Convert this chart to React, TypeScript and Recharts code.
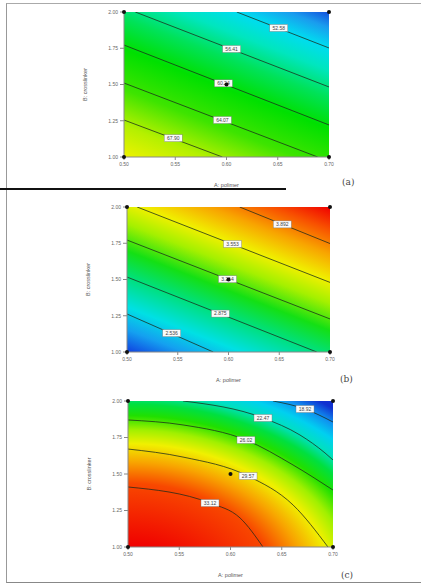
import React from 'react';
import { ComposedChart, Line, Scatter, XAxis, YAxis, ReferenceArea, ReferenceDot } from 'recharts';

const xTicks = [0.5, 0.55, 0.6, 0.65, 0.7];
const yTicks = [1.0, 1.25, 1.5, 1.75, 2.0];
const designPoints = [
    { x: 0.5, y: 1.0 },
    { x: 0.7, y: 1.0 },
    { x: 0.5, y: 2.0 },
    { x: 0.7, y: 2.0 },
    { x: 0.6, y: 1.5 },
];

// panel (a) contours
const a1 = [{ x: 0.61, y: 2.0 }, { x: 0.7, y: 1.752 }];
const a2 = [{ x: 0.511, y: 2.0 }, { x: 0.7, y: 1.483 }];
const a3 = [{ x: 0.5, y: 1.772 }, { x: 0.7, y: 1.221 }];
const a4 = [{ x: 0.5, y: 1.51 }, { x: 0.689, y: 1.0 }];
const a5 = [{ x: 0.5, y: 1.255 }, { x: 0.596, y: 1.0 }];
const aLabels = [
    { x: 0.651, y: 1.89, label: '52.58' },
    { x: 0.605, y: 1.745, label: '56.41' },
    { x: 0.597, y: 1.508, label: '60.24' },
    { x: 0.596, y: 1.255, label: '64.07' },
    { x: 0.548, y: 1.13, label: '67.90' },
];

// panel (b) contours
const b1 = [{ x: 0.611, y: 2.0 }, { x: 0.7, y: 1.748 }];
const b2 = [{ x: 0.51, y: 2.0 }, { x: 0.7, y: 1.48 }];
const b3 = [{ x: 0.5, y: 1.772 }, { x: 0.7, y: 1.228 }];
const b4 = [{ x: 0.5, y: 1.517 }, { x: 0.687, y: 1.0 }];
const b5 = [{ x: 0.5, y: 1.262 }, { x: 0.585, y: 1.0 }];
const bLabels = [
    { x: 0.653, y: 1.88, label: '3.892' },
    { x: 0.604, y: 1.745, label: '3.553' },
    { x: 0.599, y: 1.502, label: '3.214' },
    { x: 0.592, y: 1.265, label: '2.875' },
    { x: 0.544, y: 1.13, label: '2.536' },
];

// panel (c) contours
const c1 = [{ x: 0.6415, y: 2.0 }, { x: 0.6727, y: 1.945 }, { x: 0.7, y: 1.856 }];
const c2 = [{ x: 0.5537, y: 2.0 }, { x: 0.6317, y: 1.884 }, { x: 0.6678, y: 1.767 }, { x: 0.6922, y: 1.644 }, { x: 0.7, y: 1.596 }];
const c3 = [{ x: 0.5, y: 1.87 }, { x: 0.5537, y: 1.836 }, { x: 0.6151, y: 1.733 }, { x: 0.661, y: 1.562 }, { x: 0.7, y: 1.39 }];
const c4 = [{ x: 0.5, y: 1.671 }, { x: 0.5537, y: 1.616 }, { x: 0.6171, y: 1.486 }, { x: 0.661, y: 1.288 }, { x: 0.6951, y: 1.0 }];
const c5 = [{ x: 0.5, y: 1.411 }, { x: 0.58, y: 1.301 }, { x: 0.6093, y: 1.199 }, { x: 0.6317, y: 1.0 }];
const cLabels = [
    { x: 0.6727, y: 1.945, label: '18.92' },
    { x: 0.6317, y: 1.884, label: '22.47' },
    { x: 0.6151, y: 1.733, label: '26.02' },
    { x: 0.6171, y: 1.486, label: '29.57' },
    { x: 0.58, y: 1.301, label: '33.12' },
];

const font = '"Liberation Sans", Arial, sans-serif';

const ContourLabel = (props: any) => {
    const { cx, cy, payload } = props;
    return (
        <g>
            <rect x={cx - 9} y={cy - 3.5} width={18} height={7} fill="#fafafa" stroke="#777" strokeWidth={0.4} />
            <text x={cx} y={cy + 1.8} fontSize={5} textAnchor="middle" fill="#444" fontFamily={font}>
                {payload.label}
            </text>
        </g>
    );
};

const YLabel = (props: any) => {
    const { x, y, height } = props.viewBox;
    const tx = x + 3;
    const ty = y + height / 2;
    return (
        <text x={tx} y={ty} transform={`rotate(-90, ${tx}, ${ty})`} textAnchor="middle" fontSize={5.5} fill="#555" fontFamily={font}>
            B: crosslinker
        </text>
    );
};

interface PanelProps {
    id: string;
    lines: Array<Array<{ x: number; y: number }>>;
    labels: Array<{ x: number; y: number; label: string }>;
    gradient: React.ReactNode;
    height: number;
    left: number;
    right: number;
    curved?: boolean;
}

const Panel: React.FC<PanelProps> = ({ id, lines, labels, gradient, height, left, right, curved }) => (
    <ComposedChart width={423} height={height} margin={{ top: 12, right, bottom: 0, left }}>
        <defs>{gradient}</defs>
        <XAxis
            dataKey="x"
            type="number"
            domain={[0.5, 0.7]}
            ticks={xTicks}
            tickFormatter={(v: number) => v.toFixed(2)}
            allowDataOverflow
            height={34}
            tickSize={3}
            tickMargin={2}
            tick={{ fontSize: 5, fill: '#666', fontFamily: font }}
            stroke="#888"
            label={{ value: 'A: polimer', position: 'insideBottom', offset: 4, fontSize: 5.5, fill: '#555', fontFamily: font }}
        />
        <YAxis
            dataKey="y"
            type="number"
            domain={[1, 2]}
            ticks={yTicks}
            tickFormatter={(v: number) => v.toFixed(2)}
            allowDataOverflow
            width={40}
            tickSize={4}
            tickMargin={2}
            tick={{ fontSize: 5, fill: '#666', fontFamily: font }}
            stroke="#888"
            label={<YLabel />}
        />
        <ReferenceArea x1={0.5} x2={0.7} y1={1} y2={2} fill={`url(#${id})`} fillOpacity={1} stroke="none" />
        {lines.map((d, i) => (
            <Line
                key={i}
                data={d}
                dataKey="y"
                type={curved ? 'monotone' : 'linear'}
                stroke="#1b2a1b"
                strokeOpacity={0.85}
                strokeWidth={0.9}
                dot={false}
                activeDot={false}
                isAnimationActive={false}
            />
        ))}
        <Scatter data={labels} dataKey="y" shape={<ContourLabel />} isAnimationActive={false} />
        {designPoints.map((p, i) => (
            <ReferenceDot key={`dp${i}`} x={p.x} y={p.y} r={2} fill="#111" stroke="none" ifOverflow="visible" />
        ))}
    </ComposedChart>
);

const gradA = (
    <linearGradient id="gradA" x1="0.173" y1="1.095" x2="0.827" y2="-0.095">
        <stop offset="0" stopColor="#eef200" />
        <stop offset="0.14" stopColor="#b4f000" />
        <stop offset="0.3" stopColor="#3ee400" />
        <stop offset="0.48" stopColor="#00e000" />
        <stop offset="0.62" stopColor="#00e25a" />
        <stop offset="0.74" stopColor="#00e6be" />
        <stop offset="0.84" stopColor="#00dcf0" />
        <stop offset="0.93" stopColor="#1a9cee" />
        <stop offset="1" stopColor="#1450dc" />
    </linearGradient>
);

const gradB = (
    <linearGradient id="gradB" x1="0.173" y1="1.095" x2="0.827" y2="-0.095">
        <stop offset="0" stopColor="#1040e0" />
        <stop offset="0.1" stopColor="#14a0f0" />
        <stop offset="0.2" stopColor="#00e0e4" />
        <stop offset="0.33" stopColor="#00e080" />
        <stop offset="0.45" stopColor="#14e014" />
        <stop offset="0.57" stopColor="#a4f000" />
        <stop offset="0.67" stopColor="#f0f000" />
        <stop offset="0.79" stopColor="#f8a400" />
        <stop offset="0.9" stopColor="#f85000" />
        <stop offset="1" stopColor="#f00000" />
    </linearGradient>
);

const gradC = (
    <radialGradient id="gradC" cx="0" cy="1.3" r="1.6" fx="0" fy="1.3">
        <stop offset="0.19" stopColor="#f00000" />
        <stop offset="0.46" stopColor="#f84800" />
        <stop offset="0.55" stopColor="#f8a400" />
        <stop offset="0.63" stopColor="#f0f000" />
        <stop offset="0.69" stopColor="#a0f000" />
        <stop offset="0.75" stopColor="#20e000" />
        <stop offset="0.8" stopColor="#00e040" />
        <stop offset="0.85" stopColor="#00e0c0" />
        <stop offset="0.9" stopColor="#00d0f0" />
        <stop offset="0.95" stopColor="#1090f0" />
        <stop offset="1" stopColor="#1030d0" />
    </radialGradient>
);

const tag: React.CSSProperties = {
    position: 'absolute',
    fontFamily: '"DejaVu Serif", serif',
    fontSize: 9,
    color: '#444',
};

export default function App() {
    return (
        <div style={{ position: 'absolute', left: 0, top: 0, width: 423, height: 584, background: '#fff', overflow: 'hidden' }}>
            <div style={{ position: 'absolute', left: 6, top: 3, width: 414, height: 578, borderLeft: '1.5px solid #999', borderTop: '1.5px solid #aaa', borderBottom: '1.5px solid #888' }} />
            <div style={{ position: 'absolute', left: 0, top: 0 }}>
                <Panel id="gradA" lines={[a1, a2, a3, a4, a5]} labels={aLabels} gradient={gradA} height={191} left={84} right={94} />
            </div>
            <div style={{ position: 'absolute', left: 0, top: 188, width: 286, height: 2, background: '#111' }} />
            <div style={{ position: 'absolute', left: 0, top: 195 }}>
                <Panel id="gradB" lines={[b1, b2, b3, b4, b5]} labels={bLabels} gradient={gradB} height={191} left={87} right={93} />
            </div>
            <div style={{ position: 'absolute', left: 0, top: 389 }}>
                <Panel id="gradC" lines={[c1, c2, c3, c4, c5]} labels={cLabels} gradient={gradC} height={192} left={88} right={90} curved />
            </div>
            <div style={{ ...tag, left: 342, top: 177 }}>(a)</div>
            <div style={{ ...tag, left: 340, top: 374 }}>(b)</div>
            <div style={{ ...tag, left: 341, top: 570 }}>(c)</div>
        </div>
    );
}
